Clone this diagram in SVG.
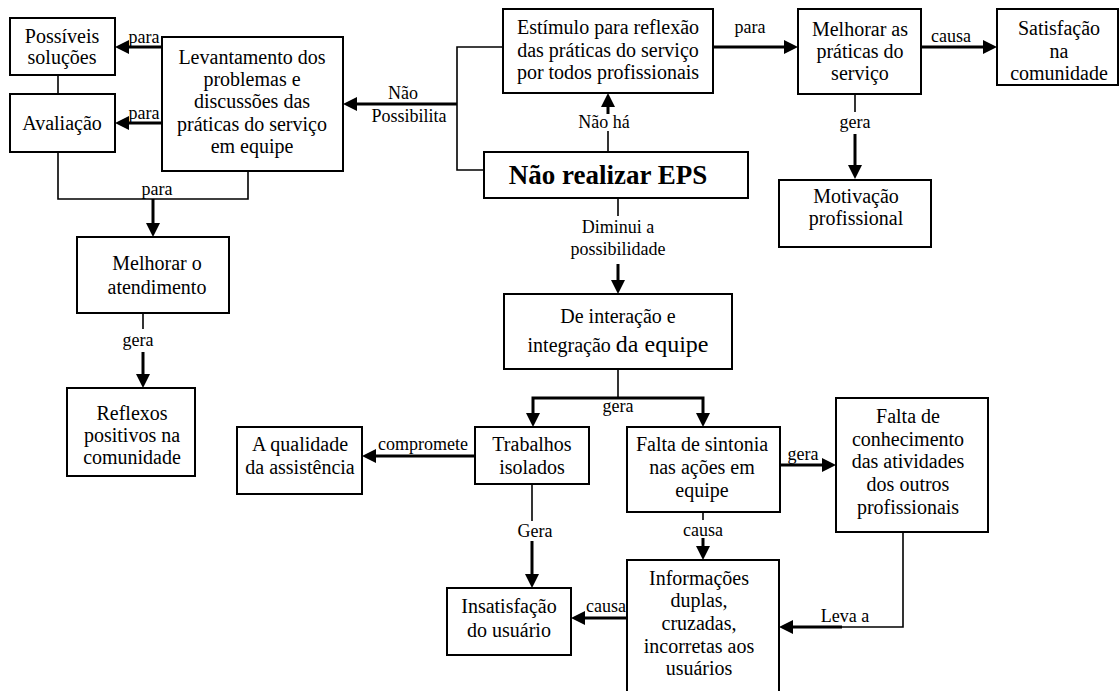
<svg xmlns="http://www.w3.org/2000/svg" width="1120" height="691" viewBox="0 0 1120 691" font-family="'Liberation Serif', Tinos, 'Times New Roman', Times, 'DejaVu Serif', serif">
<style>
.box{fill:#fff;stroke:#000;stroke-width:2}
.t{font-family:'Liberation Serif', Tinos, 'Times New Roman', Times, 'DejaVu Serif', serif;font-size:20px;fill:#000;text-anchor:middle}
.lb{font-family:'Liberation Serif', Tinos, 'Times New Roman', Times, 'DejaVu Serif', serif;font-size:18px;fill:#000;text-anchor:middle}
.b{font-weight:bold;font-size:27px}
.thin{fill:none;stroke:#000;stroke-width:1.6}
.thick{fill:none;stroke:#000;stroke-width:3;marker-end:url(#ah)}
</style>
<defs>
<marker id="ah" markerUnits="userSpaceOnUse" markerWidth="16" markerHeight="16" refX="3" refY="7" orient="auto">
<path d="M0,0 L14,7 L0,14 z" fill="#000"/>
</marker>
</defs>
<rect width="1120" height="691" fill="#fff"/>

<g id="connectors">
<line class="thick" x1="162" y1="47" x2="126" y2="47"/>
<line class="thick" x1="162" y1="123" x2="126" y2="123"/>
<line class="thin" x1="58" y1="75" x2="58" y2="94"/>
<path class="thin" d="M58,152 V199 H248 V171"/>
<line class="thick" x1="153" y1="199" x2="153" y2="226"/>
<line class="thin" x1="143" y1="313" x2="143" y2="329"/>
<line class="thick" x1="143" y1="352" x2="143" y2="377"/>
<path class="thin" d="M503,47 H457 V170 H484"/>
<line class="thick" x1="457" y1="104" x2="354" y2="104"/>
<line class="thin" x1="608" y1="152" x2="608" y2="131"/>
<line class="thick" x1="608" y1="114" x2="608" y2="104"/>
<line class="thick" x1="713" y1="47" x2="787" y2="47"/>
<line class="thick" x1="921" y1="47" x2="986" y2="47"/>
<line class="thin" x1="855" y1="94" x2="855" y2="112"/>
<line class="thick" x1="855" y1="134" x2="855" y2="168"/>
<line class="thin" x1="618" y1="198" x2="618" y2="216"/>
<line class="thick" x1="618" y1="264" x2="618" y2="283"/>
<line class="thin" x1="618" y1="369" x2="618" y2="398"/>
<path class="thick" d="M618,398 H533 V416"/>
<path class="thick" d="M618,398 H703 V416"/>
<line class="thick" x1="475" y1="456" x2="373" y2="456"/>
<line class="thin" x1="532" y1="484" x2="532" y2="521"/>
<line class="thick" x1="532" y1="541" x2="532" y2="577"/>
<line class="thick" x1="780" y1="465" x2="825" y2="465"/>
<line class="thin" x1="703" y1="512" x2="703" y2="520"/>
<line class="thick" x1="703" y1="538" x2="703" y2="549"/>
<path class="thin" d="M903,532 V627 H840"/>
<line class="thick" x1="842" y1="627" x2="790" y2="627"/>
<line class="thick" x1="627" y1="618" x2="582" y2="618"/>

<text class="lb" x="144" y="43">para</text>
<text class="lb" x="144" y="119">para</text>
<text class="lb" x="157" y="195">para</text>
<text class="lb" x="138" y="346">gera</text>
<text class="lb" x="403" y="99">Não</text>
<text class="lb" x="409" y="122">Possibilita</text>
<text class="lb" x="604" y="128">Não há</text>
<text class="lb" x="750" y="33">para</text>
<text class="lb" x="951" y="42">causa</text>
<text class="lb" x="855" y="128">gera</text>
<text class="lb" x="618" y="233">Diminui a</text>
<text class="lb" x="618" y="255">possibilidade</text>
<text class="lb" x="618" y="412">gera</text>
<text class="lb" x="423" y="450">compromete</text>
<text class="lb" x="535" y="537">Gera</text>
<text class="lb" x="606" y="612">causa</text>
<text class="lb" x="803" y="460">gera</text>
<text class="lb" x="703" y="536">causa</text>
<text class="lb" x="845" y="622">Leva a</text>
</g>

<g id="n-possiveis">
<rect class="box" x="10" y="18" width="105" height="57"/>
<text class="t" x="62" y="43">Possíveis</text>
<text class="t" x="62" y="64">soluções</text>
</g>
<g id="n-avaliacao">
<rect class="box" x="10" y="94" width="105" height="58"/>
<text class="t" x="62" y="130">Avaliação</text>
</g>
<g id="n-levantamento">
<rect class="box" x="162" y="37" width="181" height="134"/>
<text class="t" x="252" y="64">Levantamento dos</text>
<text class="t" x="252" y="86">problemas e</text>
<text class="t" x="252" y="108">discussões das</text>
<text class="t" x="252" y="131">práticas do serviço</text>
<text class="t" x="252" y="153">em equipe</text>
</g>
<g id="n-estimulo">
<rect class="box" x="503" y="9" width="210" height="84"/>
<text class="t" x="608" y="34">Estímulo para reflexão</text>
<text class="t" x="608" y="57">das práticas do serviço</text>
<text class="t" x="608" y="79">por todos profissionais</text>
</g>
<g id="n-eps">
<rect class="box" x="484" y="152" width="264" height="46"/>
<text class="t b" x="608" y="184">Não realizar EPS</text>
</g>
<g id="n-melhorar-praticas">
<rect class="box" x="798" y="9" width="123" height="85"/>
<text class="t" x="860" y="36">Melhorar as</text>
<text class="t" x="860" y="58">práticas do</text>
<text class="t" x="860" y="80">serviço</text>
</g>
<g id="n-satisfacao">
<rect class="box" x="997" y="9" width="121" height="76"/>
<text class="t" x="1059" y="35">Satisfação</text>
<text class="t" x="1059" y="58">na</text>
<text class="t" x="1059" y="80">comunidade</text>
</g>
<g id="n-motivacao">
<rect class="box" x="779" y="180" width="152" height="67"/>
<text class="t" x="856" y="203">Motivação</text>
<text class="t" x="856" y="225">profissional</text>
</g>
<g id="n-melhorar-atendimento">
<rect class="box" x="77" y="237" width="152" height="76"/>
<text class="t" x="157" y="270">Melhorar o</text>
<text class="t" x="157" y="294">atendimento</text>
</g>
<g id="n-reflexos">
<rect class="box" x="67" y="388" width="128" height="88"/>
<text class="t" x="132" y="420">Reflexos</text>
<text class="t" x="132" y="442">positivos na</text>
<text class="t" x="132" y="464">comunidade</text>
</g>
<g id="n-interacao">
<rect class="box" x="504" y="294" width="228" height="75"/>
<text class="t" x="618" y="323" font-size="24">De interação e</text>
<text class="t" x="618" y="352"><tspan font-size="20">integração</tspan> <tspan font-size="24">da equipe</tspan></text>
</g>
<g id="n-qualidade">
<rect class="box" x="237" y="427" width="125" height="67"/>
<text class="t" x="300" y="451">A qualidade</text>
<text class="t" x="300" y="474">da assistência</text>
</g>
<g id="n-trabalhos">
<rect class="box" x="475" y="427" width="114" height="57"/>
<text class="t" x="532" y="451">Trabalhos</text>
<text class="t" x="532" y="474">isolados</text>
</g>
<g id="n-sintonia">
<rect class="box" x="627" y="427" width="153" height="85"/>
<text class="t" x="702" y="451">Falta de sintonia</text>
<text class="t" x="702" y="474">nas ações em</text>
<text class="t" x="702" y="497">equipe</text>
</g>
<g id="n-conhecimento">
<rect class="box" x="836" y="398" width="152" height="134"/>
<text class="t" x="908" y="423">Falta de</text>
<text class="t" x="908" y="446">conhecimento</text>
<text class="t" x="908" y="468">das atividades</text>
<text class="t" x="908" y="491">dos outros</text>
<text class="t" x="908" y="514">profissionais</text>
</g>
<g id="n-insatisfacao">
<rect class="box" x="447" y="588" width="124" height="67"/>
<text class="t" x="509" y="613">Insatisfação</text>
<text class="t" x="509" y="637">do usuário</text>
</g>
<g id="n-informacoes">
<rect class="box" x="627" y="560" width="152" height="135"/>
<text class="t" x="699" y="585">Informações</text>
<text class="t" x="699" y="607">duplas,</text>
<text class="t" x="699" y="630">cruzadas,</text>
<text class="t" x="699" y="653">incorretas aos</text>
<text class="t" x="699" y="675">usuários</text>
</g>
</svg>
